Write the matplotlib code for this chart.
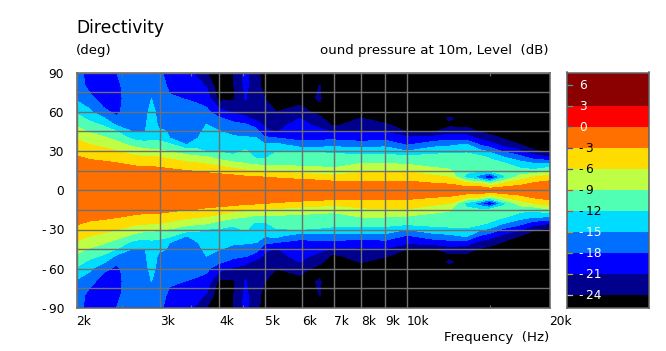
import numpy as np
import matplotlib
matplotlib.use("Agg")
import matplotlib.pyplot as plt

W, H = 666.0, 351.0

# dB levels, one row per frequency, one value per angle
angles = [0, 5, 10, 15, 20, 25, 30, 35, 40, 45, 50, 55, 60, 70, 80, 90]
freqs = [2000, 2130, 2280, 2430, 2640, 2790, 2880, 2990, 3150, 3420, 3590, 3770,
         4000, 4290, 4550, 4800, 5000, 5290, 5930, 6540, 6970, 8000, 9000, 10000,
         11350, 12300, 13350, 14250, 14950, 15950, 17300, 18450, 20000]
levels_db = [
    [-.5, -.5, -1, -1.5, -2, -2.7, -3.8, -5, -6.3, -8, -9.4, -10.9, -12.4, -15.5, -16.5, -17],
    [-.5, -.7, -1, -1.6, -2.3, -3.3, -4.6, -6, -7.7, -9.3, -11, -12.7, -14.3, -17.3, -18.8, -19],
    [-.5, -.7, -1, -1.5, -2.4, -3.7, -5.1, -6.8, -8.6, -10.5, -12.3, -14.7, -17.5, -19, -19.3, -19.5],
    [-.5, -.7, -1, -1.5, -2.7, -4.3, -5.9, -7.9, -10, -12, -15.4, -17.6, -18.5, -18.7, -18.5, -18],
    [-.5, -.7, -1, -1.8, -3.4, -5.2, -7.4, -9.9, -12.9, -15.3, -16, -16.2, -16.3, -16.5, -16.5, -16.5],
    [-.5, -.7, -1, -2, -3.8, -5.6, -8, -11, -13.2, -15, -15.6, -15.8, -16, -16.2, -16.2, -16.5],
    [-.5, -.7, -1, -2, -3.7, -5.6, -8.2, -11, -12.6, -13, -13.2, -13.5, -14, -15, -15.8, -16.2],
    [-.5, -.7, -1, -2, -3.9, -5.8, -8.6, -11, -12.9, -14.4, -15.6, -15.9, -16, -16.5, -17, -17.5],
    [-.5, -.7, -1.2, -2.4, -4.4, -6.5, -9.3, -11.5, -15, -15.3, -15.7, -16, -16.5, -17.7, -18.5, -19],
    [-.5, -.7, -1.3, -3, -5.1, -7.8, -10.6, -15.1, -15.5, -16, -16.3, -16.6, -17, -18.1, -19, -20],
    [-.5, -.7, -1.4, -3.2, -5.5, -8.2, -11.3, -13.3, -15.3, -15.8, -16.3, -16.8, -17.2, -18.4, -20, -21.5],
    [-.5, -.7, -1.5, -3.7, -6, -8.5, -12.2, -12.8, -13.5, -14.2, -14.9, -16.1, -17.4, -19.2, -21.3, -24],
    [-.5, -.7, -1.7, -4.2, -6.8, -10, -12.3, -13, -14, -14.8, -16.3, -17.6, -19.8, -25, -26, -26],
    [-.5, -.8, -2, -5, -7.9, -11.3, -12.8, -13.7, -14.6, -15.8, -17.2, -19, -21.5, -24.4, -24.2, -24],
    [-.5, -.8, -2.5, -5.7, -8.8, -10.5, -11.7, -13.4, -14.7, -16.2, -17.6, -20.4, -22, -20.8, -20.3, -20],
    [-.5, -.8, -2.7, -6, -9.4, -12.4, -13.2, -13.9, -15, -16.9, -19.2, -22, -23, -23.3, -23, -23],
    [-.5, -.8, -3, -6.3, -9.7, -12.3, -13, -14.7, -17.4, -20.4, -21.5, -22, -22.8, -24, -25, -25.5],
    [-.5, -.9, -3.3, -6.7, -9.4, -10.8, -12.2, -14.2, -18, -21.2, -22, -23, -24, -25, -26, -26],
    [-.5, -1, -4, -7.5, -9.7, -10.8, -12, -17.2, -18.6, -19.2, -19.9, -21, -23, -25, -26, -26],
    [-.5, -1.3, -4.5, -7.9, -9.8, -10.9, -12.3, -16.8, -18.6, -20, -22, -23.5, -25, -23.7, -23.9, -27],
    [-.5, -1.7, -5, -8.3, -10, -11, -12.7, -16.3, -18.7, -21.4, -24.5, -25.5, -26, -27, -27, -27],
    [-.5, -2.2, -4.4, -6.7, -8.8, -10.9, -13.2, -16.5, -19.6, -21.3, -22.7, -23.9, -25.5, -27, -27, -27],
    [-.5, -2.1, -4.3, -6.5, -8.8, -10.9, -13, -16.2, -19, -21.2, -23.6, -25.5, -26, -27, -27, -27],
    [-.5, -2.1, -4.3, -6.3, -9.1, -11, -15, -18.4, -20.3, -24.2, -25.5, -26, -26, -27, -27, -27],
    [-.5, -2.8, -5.2, -8, -10, -11, -13, -16.4, -19.8, -24.3, -26, -26, -26, -27, -27, -27],
    [-.5, -3.2, -6, -8.8, -9.7, -10.8, -12.7, -15.8, -19.2, -22.3, -24.8, -23.5, -26, -27, -27, -27],
    [-.5, -5, -13, -11.3, -11, -11.3, -12.3, -14.7, -19.6, -22.6, -24.8, -26, -26, -27, -27, -27],
    [-.5, -5.2, -17, -11.5, -10.7, -11, -14.3, -18.4, -21.8, -24.3, -26, -26, -26, -27, -27, -27],
    [-.5, -8.5, -22, -10.8, -10.7, -12.3, -15.6, -19.8, -22.8, -25, -26, -26, -26, -27, -27, -27],
    [-.5, -5.5, -13, -10.5, -11.3, -14.6, -18.5, -22, -24.3, -26, -26, -26, -26, -27, -27, -27],
    [-.5, -3.9, -7.7, -11, -13.5, -16.8, -20.4, -24, -26, -26, -26, -26, -26, -27, -27, -27],
    [-.5, -2.5, -6.1, -11.5, -14.3, -19.2, -23.4, -26, -27, -27, -27, -27, -27, -27, -27, -27],
    [-.5, -1.8, -4.5, -9.6, -14.7, -20.6, -25, -27, -27, -27, -27, -27, -27, -27, -27, -27],
]

band_edges = [-40, -24, -21, -18, -15, -12, -9, -6, -3, 0, 3, 9]
band_colors = ["#000000", "#00008c", "#0000ff", "#006eff", "#00dcff", "#50ffb4",
               "#beff46", "#ffdc00", "#ff7000", "#ff0000", "#8b0000"]

xticks = [2000, 3000, 4000, 5000, 6000, 7000, 8000, 9000, 10000, 20000]
xticklabels = ["2k", "3k", "4k", "5k", "6k", "7k", "8k", "9k", "10k", "20k"]
minor_ticks = [2500, 3500, 4500, 15000]
ylabels = [90, 60, 30, 0, -30, -60, -90]
bar_ticks = [6, 3, 0, -3, -6, -9, -12, -15, -18, -21, -24]
bar_tick_colors = ["#40a0a0", "#40a0a0", "#40a0a0", "#3050c0", "#3050c0", "#e04020",
                   "#e04020", "#d0a000", "#a0a000", "#c0b000", "#c0c0c0"]
bar_text_colors = ["white", "white", "white", "black", "black", "black",
                   "black", "white", "white", "white", "white"]

GRID = "#707070"
EDGE = "#606060"
plt.rcParams["font.family"] = "DejaVu Sans"


def px_axes(fig, x0, y0, x1, y1):
    return fig.add_axes([x0 / W, 1 - y1 / H, (x1 - x0) / W, (y1 - y0) / H])


def label(v):
    # the picture leaves a small gap after the minus sign
    return str(v).replace("-", "-\u2009")


fig = plt.figure(figsize=(W / 100, H / 100), dpi=100)
ax = px_axes(fig, 76.5, 72.5, 549.5, 308)

upper = np.array(levels_db).T
z = np.vstack([upper[:0:-1], upper])
a = np.array(angles)
y = np.concatenate([-a[:0:-1], a])
ax.contourf(freqs, y, z, levels=band_edges, colors=band_colors)

ax.set_xscale("log")
ax.set_xlim(2000, 20000)
ax.set_ylim(-90, 90)
ax.set_xticks(xticks)
ax.set_xticklabels(xticklabels, ha="left", fontsize=8.8)
ax.set_xticks(minor_ticks, minor=True)
ax.set_xticklabels([], minor=True)
ax.set_yticks(np.arange(-90, 91, 15))
ax.set_yticklabels([label(v) if v in ylabels else "" for v in np.arange(-90, 91, 15)], fontsize=8.8)
ax.tick_params(axis="both", which="major", length=0, pad=9)
ax.tick_params(axis="x", which="major", pad=5)
ax.tick_params(axis="x", which="minor", length=2.5, width=0.8, direction="in",
               top=True, bottom=True, color=GRID)
ax.grid(True, which="major", color=GRID, lw=1.0)
ax.set_axisbelow(False)
for s in ax.spines.values():
    s.set_color(EDGE)
    s.set_linewidth(1.1)

# colour bar
cax = px_axes(fig, 567, 72.5, 648.5, 308)
cax.set_xlim(0, 1)
cax.set_ylim(-25.86, 7.86)
for lo, hi, c in zip(band_edges[:-1], band_edges[1:], band_colors):
    cax.axhspan(lo, hi, color=c, lw=0)
cax.set_xticks([])
cax.set_yticks([])
for v, tc, txc in zip(bar_ticks, bar_tick_colors, bar_text_colors):
    cax.plot([0, 0.06], [v, v], color=tc, lw=0.9)
    cax.text(0.15, v, label(v), color=txc, fontsize=8.8, ha="left", va="center")
for s in cax.spines.values():
    s.set_color(EDGE)
    s.set_linewidth(1.1)

fig.text(76 / W, 1 - 28 / H, "Directivity", fontsize=12.3, va="center", ha="left")
fig.text(76 / W, 1 - 50.5 / H, "(deg)", fontsize=9.6, va="center", ha="left")
fig.text(549 / W, 1 - 50.5 / H, "ound pressure at 10m, Level  (dB)", fontsize=9.6, va="center", ha="right")
fig.text(549 / W, 1 - 337.5 / H, "Frequency  (Hz)", fontsize=9.6, va="center", ha="right")

fig.savefig("out.png", dpi=100)
